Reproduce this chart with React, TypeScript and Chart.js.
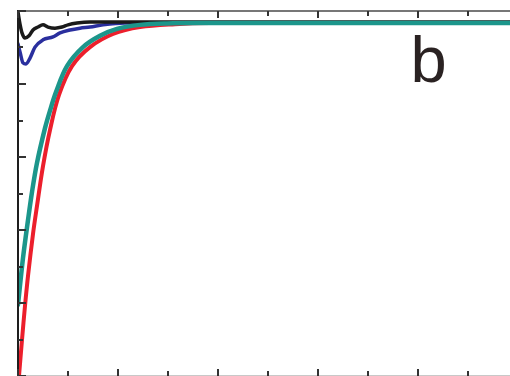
import React, { useEffect, useRef } from "react";
import { Chart, registerables } from "chart.js";

Chart.register(...registerables);

// x in time units (0..5), y normalised (0..1)
const tealX = [0, 0.05, 0.1, 0.14, 0.19, 0.27, 0.32, 0.38, 0.49, 0.65, 0.82, 0.99, 1.22, 1.49, 1.82, 5];
const tealY = [0.195, 0.323, 0.427, 0.504, 0.584, 0.679, 0.727, 0.778, 0.849, 0.901, 0.932, 0.951, 0.962, 0.966, 0.967, 0.967];

const redX = [0.01, 0.04, 0.07, 0.1, 0.15, 0.19, 0.25, 0.32, 0.41, 0.54, 0.72, 0.95, 1.22, 1.57, 1.92, 5];
const redY = [0, 0.099, 0.192, 0.274, 0.389, 0.466, 0.575, 0.674, 0.77, 0.849, 0.901, 0.937, 0.956, 0.964, 0.967, 0.967];

const blackX = [0, 0.02, 0.04, 0.07, 0.11, 0.15, 0.2, 0.25, 0.3, 0.37, 0.44, 0.5, 0.59, 0.72, 5];
const blackY = [0.997, 0.964, 0.94, 0.926, 0.932, 0.948, 0.956, 0.962, 0.956, 0.953, 0.956, 0.962, 0.967, 0.97, 0.97];

const blueX = [0, 0.02, 0.05, 0.08, 0.12, 0.17, 0.25, 0.35, 0.42, 0.52, 0.62, 0.72, 0.85, 1.07, 5];
const blueY = [0.91, 0.888, 0.858, 0.855, 0.871, 0.901, 0.921, 0.929, 0.94, 0.948, 0.953, 0.956, 0.962, 0.967, 0.967];

const xMajorTicks = [0, 1, 2, 3, 4, 5];
const xMinorTicks = [0.5, 1.5, 2.5, 3.5, 4.5];
const yMajorTicks = [0, 0.2, 0.4, 0.6, 0.8, 1];
const yMinorTicks = [0.1, 0.3, 0.5, 0.7, 0.9];

const panelLabel = "b";

const toPts = (xs: number[], ys: number[]) => xs.map((x, i) => ({ x, y: ys[i] }));

const framePlugin = {
  id: "frame",
  afterDatasetsDraw(chart: any) {
    const { ctx, chartArea, scales } = chart;
    const xs = scales.x;
    const ys = scales.y;
    const { left, right, top, bottom } = chartArea;
    ctx.save();
    // bottom axis (light)
    ctx.strokeStyle = "#c8c8c8";
    ctx.lineWidth = 1;
    ctx.beginPath();
    ctx.moveTo(left, bottom - 0.5);
    ctx.lineTo(right, bottom - 0.5);
    ctx.stroke();
    // top axis
    ctx.strokeStyle = "#4a4a4a";
    ctx.lineWidth = 1.6;
    ctx.beginPath();
    ctx.moveTo(left, top);
    ctx.lineTo(right, top);
    ctx.stroke();
    // right axis
    ctx.beginPath();
    ctx.moveTo(right, top);
    ctx.lineTo(right, bottom);
    ctx.stroke();
    // left axis
    ctx.strokeStyle = "#1e1e1e";
    ctx.lineWidth = 2;
    ctx.beginPath();
    ctx.moveTo(left, top - 1);
    ctx.lineTo(left, bottom);
    ctx.stroke();

    ctx.strokeStyle = "#333";
    ctx.lineWidth = 2;
    const drawX = (v: number, len: number) => {
      const px = Math.round(xs.getPixelForValue(v));
      ctx.beginPath();
      ctx.moveTo(px, top);
      ctx.lineTo(px, top + len);
      ctx.moveTo(px, bottom);
      ctx.lineTo(px, bottom - len);
      ctx.stroke();
    };
    const drawY = (v: number, len: number) => {
      const py = Math.round(ys.getPixelForValue(v));
      ctx.beginPath();
      ctx.moveTo(left, py);
      ctx.lineTo(left + len, py);
      ctx.moveTo(right, py);
      ctx.lineTo(right - len, py);
      ctx.stroke();
    };
    xMajorTicks.forEach((v) => drawX(v, 7));
    xMinorTicks.forEach((v) => drawX(v, 5));
    yMajorTicks.forEach((v) => drawY(v, 8));
    yMinorTicks.forEach((v) => drawY(v, 5));

    // panel label
    ctx.fillStyle = "#2a2222";
    ctx.font = '400 65px "Liberation Sans", Arial, sans-serif';
    ctx.textBaseline = "alphabetic";
    ctx.textAlign = "left";
    ctx.fillText(panelLabel, xs.getPixelForValue(3.925), ys.getPixelForValue(0.806));
    ctx.restore();
  },
};

export default function App() {
  const ref = useRef<HTMLCanvasElement | null>(null);
  useEffect(() => {
    if (!ref.current) return;
    const common = {
      pointRadius: 0,
      fill: false,
      tension: 0.35,
      borderCapStyle: "round" as const,
      borderJoinStyle: "round" as const,
    };
    const chart = new Chart(ref.current, {
      type: "line",
      data: {
        datasets: [
          { ...common, label: "teal", data: toPts(tealX, tealY), borderColor: "#1c968b", borderWidth: 4.5, order: 0 },
          { ...common, label: "black", data: toPts(blackX, blackY), borderColor: "#1a1a1a", borderWidth: 3.5, order: 1, cubicInterpolationMode: "monotone" as const },
          { ...common, label: "blue", data: toPts(blueX, blueY), borderColor: "#2a2f9e", borderWidth: 3.5, order: 2, cubicInterpolationMode: "monotone" as const },
          { ...common, label: "red", data: toPts(redX, redY), borderColor: "#ec1f2c", borderWidth: 4, order: 3 },
        ],
      },
      options: {
        animation: false,
        responsive: false,
        maintainAspectRatio: false,
        devicePixelRatio: 1,
        layout: { padding: { left: 18, top: 11, right: 12, bottom: 14 } },
        plugins: { legend: { display: false }, tooltip: { enabled: false } },
        scales: {
          x: { type: "linear", min: 0, max: 5, display: false },
          y: { type: "linear", min: 0, max: 1, display: false },
        },
      },
      plugins: [framePlugin],
    });
    return () => chart.destroy();
  }, []);
  return (
    <div style={{ position: "fixed", left: 0, top: 0, width: 510, height: 376, overflow: "hidden", background: "#fff" }}>
      <canvas ref={ref} width={530} height={390} style={{ width: 530, height: 390, display: "block" }} />
    </div>
  );
}
